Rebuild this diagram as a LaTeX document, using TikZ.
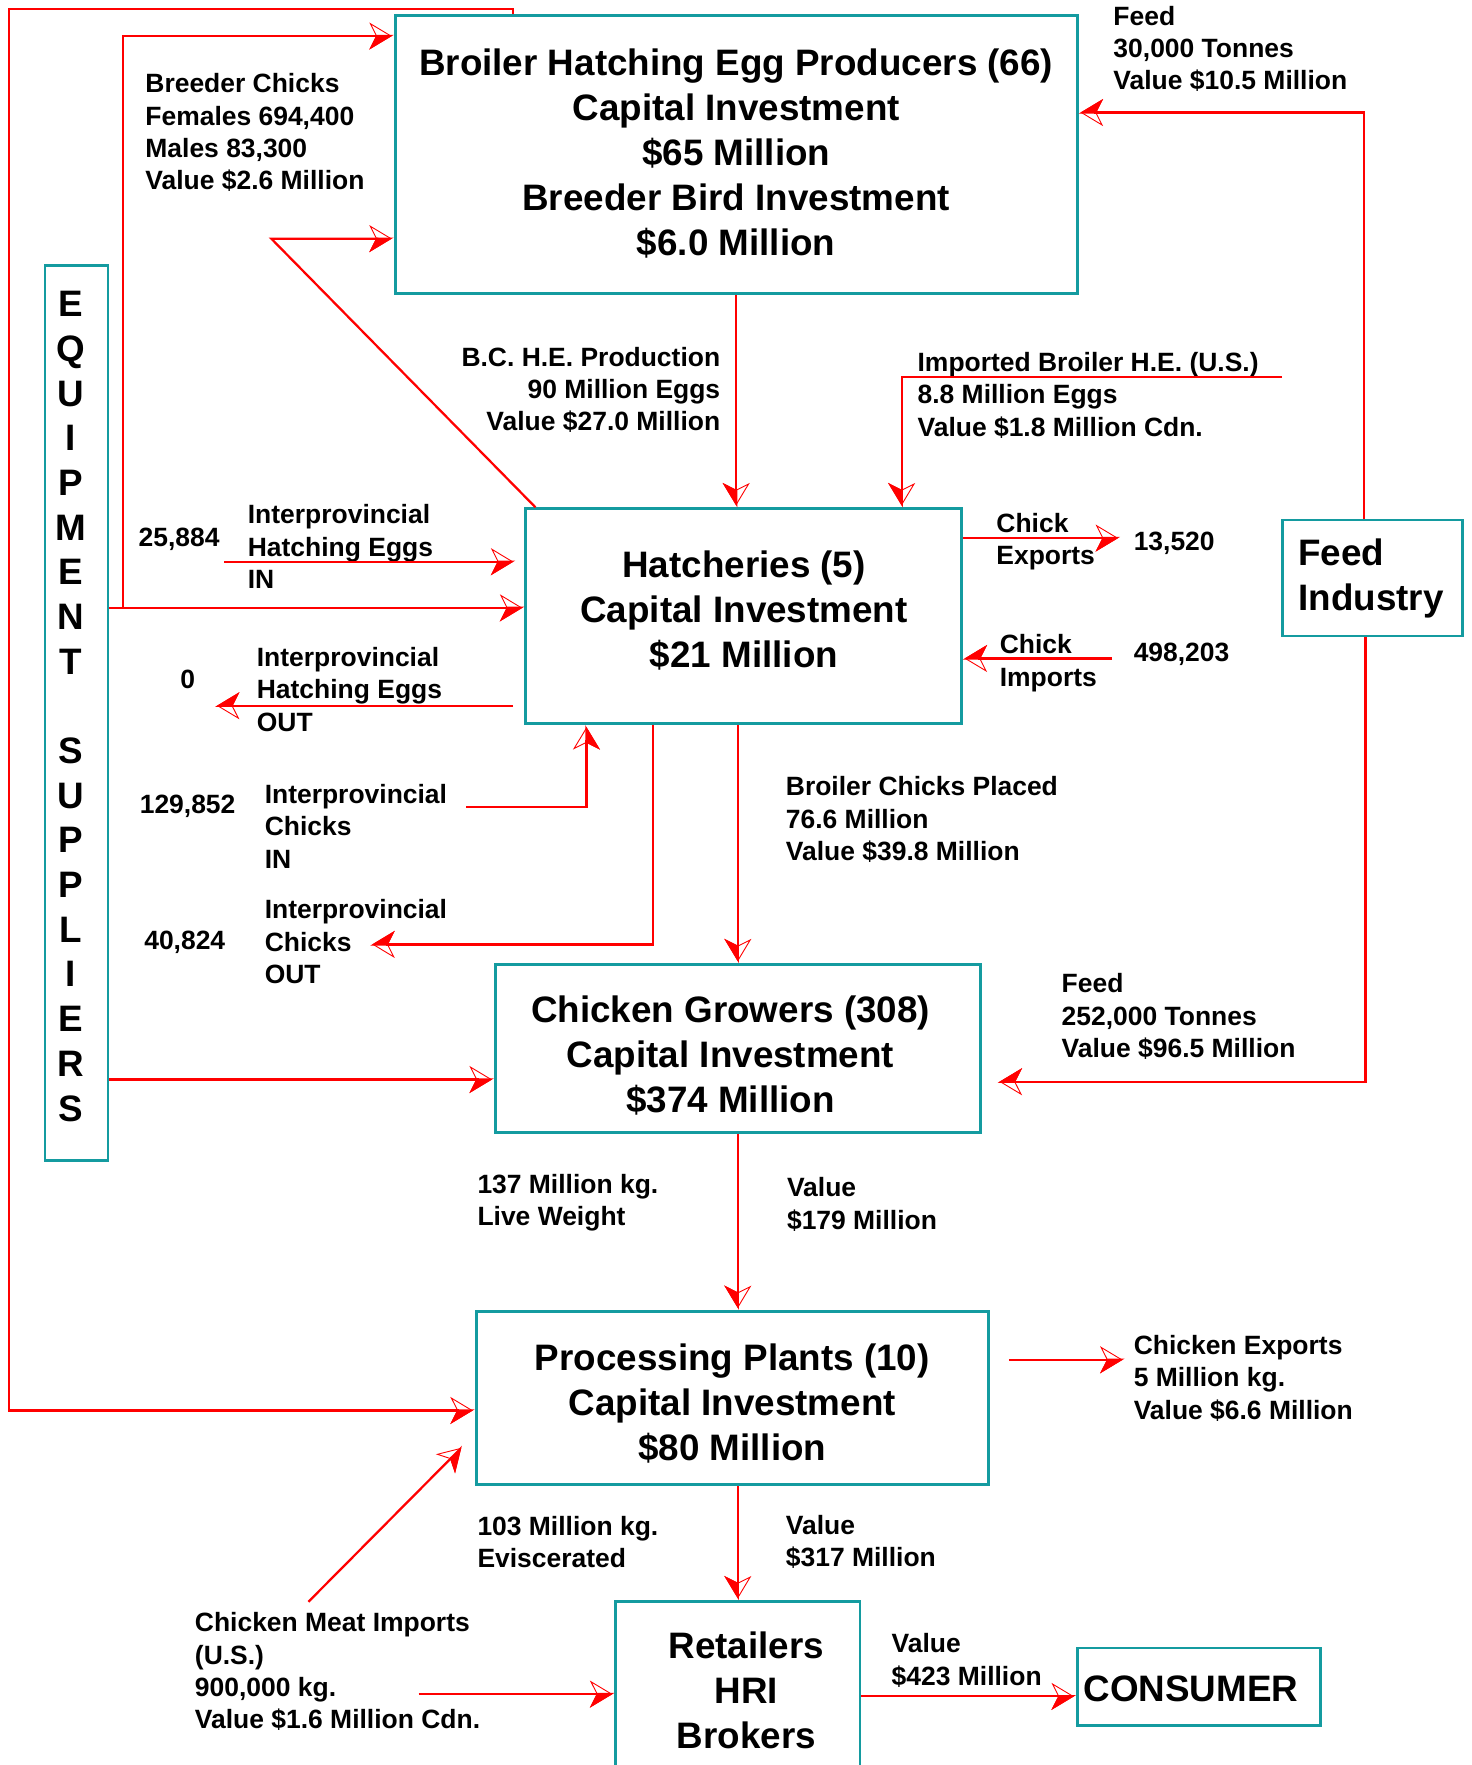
\documentclass[tikz,border=0pt]{standalone}
\usepackage{fontspec}
\setmainfont{Liberation Sans}
\usepackage{tikz}
\usetikzlibrary{arrows.meta, positioning}
\definecolor{boxteal}{RGB}{20,155,160}
\definecolor{flowred}{RGB}{255,0,0}
\tikzstyle{stage} = [rectangle, draw=boxteal, line width=2.5pt, inner sep=0pt]
\tikzstyle{title} = [align=center, inner sep=0pt, font=\bfseries\fontsize{32.7}{40}\selectfont]
\tikzstyle{info} = [align=left, anchor=west, inner sep=0pt, font=\bfseries\fontsize{23.5}{28.7}\selectfont]
\tikzstyle{flow} = [flowred, line width=2pt]
\tikzstyle{arrow} = [flow, -{Stealth[open, length=20pt, width=24pt, inset=6pt, line width=0.8pt, sep=-20pt] Stealth[harpoon, swap, length=20pt, width=24pt, inset=6pt]}]

\begin{document}
\begin{tikzpicture}[x=1pt, y=-1pt]
\useasboundingbox (0,0) rectangle (1307,1568);

% boxes
\node (producers) [stage, minimum width=606pt, minimum height=247pt] at (654,137.5) {};
\node (hatch) [stage, minimum width=387pt, minimum height=191pt] at (660.5,547.5) {};
\node (growers) [stage, minimum width=431pt, minimum height=149pt] at (655.5,931.5) {};
\node (plants) [stage, minimum width=455pt, minimum height=154pt] at (650.5,1242) {};
\node (retail) [stage, minimum width=217pt, minimum height=157pt] at (655.5,1501.5) {};
\node (consumer) [stage, minimum width=216pt, minimum height=69pt] at (1065,1498.5) {};
\node (feed) [stage, minimum width=160pt, minimum height=103pt] at (1219,513.5) {};
\node (equip) [stage, minimum width=56pt, minimum height=795pt] at (68,633.5) {};

% box texts
\node (producerstext) [title] at (654,136.5) {Broiler Hatching Egg Producers (66)\\Capital Investment\\\$65 Million\\Breeder Bird Investment\\\$6.0 Million};
\node (hatchtext) [title] at (661,542) {Hatcheries (5)\\Capital Investment\\\$21 Million};
\node (growerstext) [title] at (649,937.5) {Chicken Growers (308)\\Capital Investment\\\$374 Million};
\node (plantstext) [title] at (650.5,1246.5) {Processing Plants (10)\\Capital Investment\\\$80 Million};
\node (retailtext) [title] at (663,1501.5) {Retailers\\HRI\\Brokers};
\node (consumertext) [title] at (1058,1500) {CONSUMER};
\node (feedtext) [title, align=left] at (1218,513.5) {Feed\\Industry};
\node (equiptext) [title, font=\bfseries\fontsize{32.7}{39.7}\selectfont] at (63,627.5) {E\\Q\\U\\I\\P\\M\\E\\N\\T\\[39.7pt]S\\U\\P\\P\\L\\I\\E\\R\\S};

% labels
\node (breeder) [info] at (129,118) {Breeder Chicks\\Females 694,400\\Males 83,300\\Value \$2.6 Million};
\node (bcprod) [info, align=right, anchor=east] at (640,346.5) {B.C. H.E. Production\\90 Million Eggs\\Value \$27.0 Million};
\node (imported) [info] at (815,351) {Imported Broiler H.E. (U.S.)\\8.8 Million Eggs\\Value \$1.8 Million Cdn.};
\node (feedtop) [info] at (989,43.5) {Feed\\30,000 Tonnes\\Value \$10.5 Million};
\node (chickexp) [info] at (885,481) {Chick\\Exports};
\node (expnum) [info] at (1007,483) {13,520};
\node (chickimp) [info] at (888,589) {Chick\\Imports};
\node (impnum) [info] at (1007,581) {498,203};
\node (eggsinlbl) [info] at (220,485.5) {Interprovincial\\Hatching Eggs\\IN};
\node (eggsinnum) [info] at (123,479) {25,884};
\node (eggsoutlbl) [info] at (228,612.5) {Interprovincial\\Hatching Eggs\\OUT};
\node (eggsoutnum) [info] at (160,604) {0};
\node (chicksinlbl) [info] at (235,734) {Interprovincial\\Chicks\\IN};
\node (chicksinnum) [info] at (124,716) {129,852};
\node (chicksoutlbl) [info] at (235,836.5) {Interprovincial\\Chicks\\OUT};
\node (chicksoutnum) [info] at (128,837) {40,824};
\node (placed) [info] at (698,728) {Broiler Chicks Placed\\76.6 Million\\Value \$39.8 Million};
\node (feedlow) [info] at (943,903) {Feed\\252,000 Tonnes\\Value \$96.5 Million};
\node (live) [info] at (424,1068.5) {137 Million kg.\\Live Weight};
\node (livevalue) [info] at (699,1070) {Value\\\$179 Million};
\node (chickenexp) [info] at (1007,1224.5) {Chicken Exports\\5 Million kg.\\Value \$6.6 Million};
\node (evisc) [info] at (424,1370) {103 Million kg.\\Eviscerated};
\node (eviscvalue) [info] at (698,1370) {Value\\\$317 Million};
\node (meatimp) [info] at (173,1485) {Chicken Meat Imports\\(U.S.)\\900,000 kg.\\Value \$1.6 Million Cdn.};
\node (consvalue) [info] at (792,1475) {Value\\\$423 Million};

% bend points and free ends
\coordinate (outerbend) at (456,8);
\coordinate (outerleft) at (8,8);
\coordinate (outerlow) at (8,1253);
\coordinate (innerleft) at (109,32);
\coordinate (hatchrow) at (109,540);
\coordinate (growrow) at (270,959);
\coordinate (diagtop) at (241,212);
\coordinate (impright) at (1139,335);
\coordinate (impleft) at (801,335);
\coordinate (expend) at (995,478);
\coordinate (impstart) at (988,585);
\coordinate (eggsin) at (199,499);
\coordinate (eggsout) at (191,627);
\coordinate (chicksin) at (414,717);
\coordinate (chicksinup) at (521,717);
\coordinate (chicksoutdown) at (580,839);
\coordinate (chicksout) at (329,839);
\coordinate (feedcorner) at (1212,100);
\coordinate (feedlowcorner) at (1213,961);
\coordinate (pexpend) at (999,1208);
\coordinate (meatstart) at (274,1423);
\coordinate (meatend) at (411,1285);
\coordinate (meatrow) at (372,1505);
\coordinate (consrow) at (768,1507);

% connectors
\draw [arrow] (outerbend |- producers.north) -- (outerbend) -- (outerleft) -- (outerlow) -- (outerlow -| plants.west);
\draw [arrow] (equip.east |- hatchrow) -- (hatchrow -| hatch.west);
\draw [arrow] (hatchrow) -- (innerleft) -- (innerleft -| producers.west);
\draw [arrow] (equip.east |- growrow) -- (growrow -| growers.west);
\draw [arrow] ([xshift=10pt]hatch.north west) -- (diagtop) -- (diagtop -| producers.west);
\draw [arrow] (producers.south) -- (producers.south |- hatch.north);
\draw [arrow] (impright) -- (impleft) -- (impleft |- hatch.north);
\draw [arrow] (expend -| hatch.east) -- (expend);
\draw [arrow] (impstart) -- (impstart -| hatch.east);
\draw [arrow, shorten >=8pt] (eggsin) -- (eggsin -| hatch.west);
\draw [arrow, shorten <=10pt] (eggsout -| hatch.west) -- (eggsout);
\draw [arrow] (chicksin) -- (chicksinup) -- (chicksinup |- hatch.south);
\draw [arrow] (chicksoutdown |- hatch.south) -- (chicksoutdown) -- (chicksout);
\draw [arrow] (growers.north |- hatch.south) -- (growers.north);
\draw [arrow] (feedcorner |- feed.north) -- (feedcorner) -- (feedcorner -| producers.east);
\draw [arrow, shorten >=14pt] (feedlowcorner |- feed.south) -- (feedlowcorner) -- (feedlowcorner -| growers.east);
\draw [arrow] (growers.south) -- (growers.south |- plants.north);
\draw [arrow, shorten <=17pt] (plants.east |- pexpend) -- (pexpend);
\draw [arrow] (plants.south -| retail.north) -- (retail.north);
\draw [arrow] (meatstart) -- (meatend);
\draw [arrow] (meatrow) -- (meatrow -| retail.west);
\draw [arrow] (retail.east |- consrow) -- (consrow -| consumer.west);

\end{tikzpicture}
\end{document}
